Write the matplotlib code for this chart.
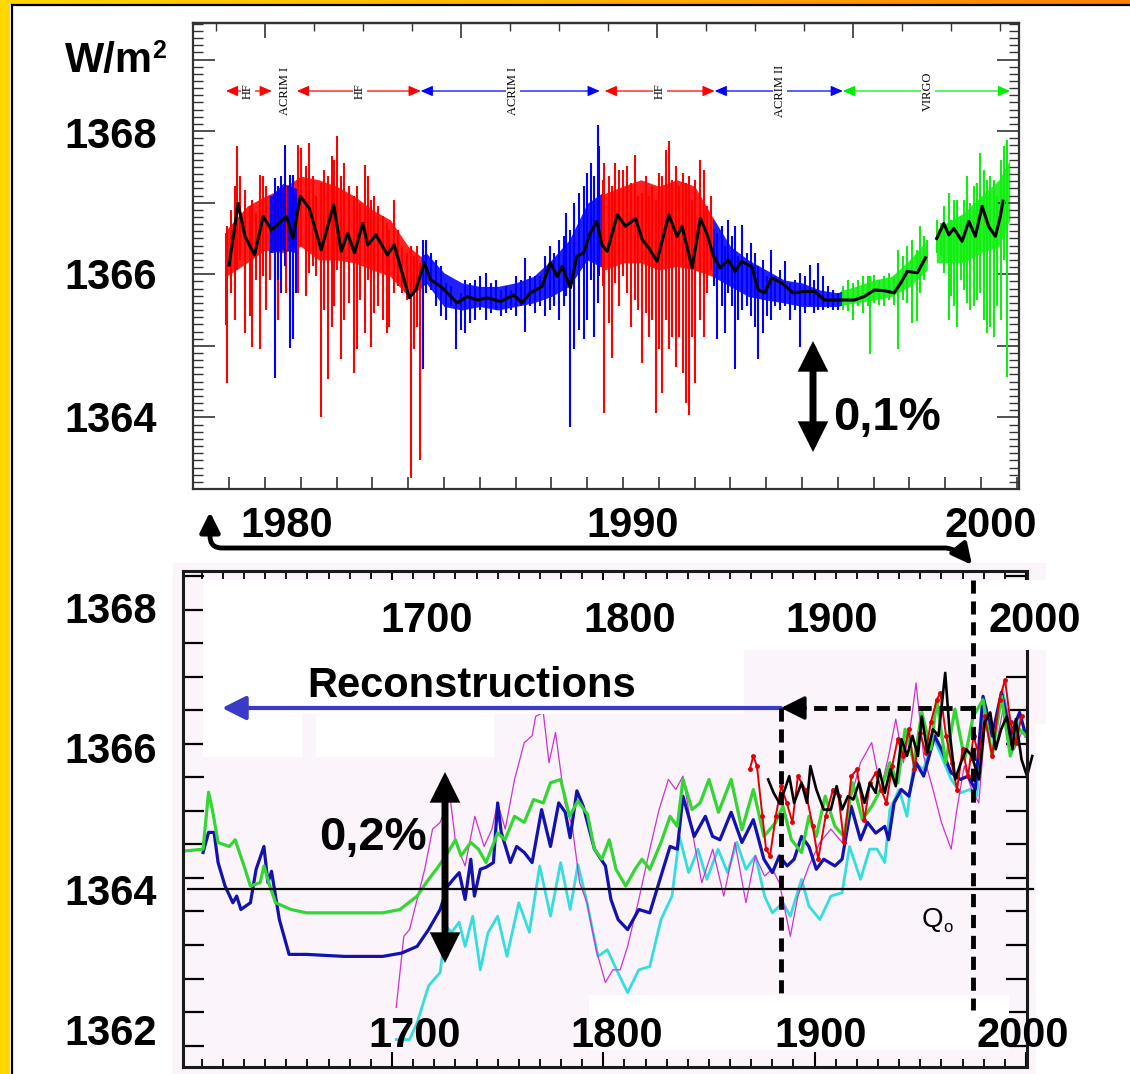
import numpy as np
import matplotlib.pyplot as plt
from matplotlib.patches import Rectangle, FancyArrowPatch, ArrowStyle
from matplotlib.path import Path
from matplotlib.ticker import MultipleLocator
from matplotlib.colors import LinearSegmentedColormap

plt.rcParams['font.family'] = ['Liberation Sans', 'DejaVu Sans']

# ------------------------------------------------------------
# upper panel : composite total solar irradiance 1978-2001 (W/m2)
# ------------------------------------------------------------
# daily spikes, (year, low, high)
hf_spikes = [
    (1978.90, 1365.29, 1366.57), (1978.95, 1364.48, 1366.67), (1979.06, 1365.74, 1366.90),
    (1979.16, 1365.36, 1367.23), (1979.21, 1366.06, 1367.79), (1979.30, 1366.20, 1367.37),
    (1979.44, 1365.18, 1367.18), (1979.58, 1365.41, 1366.95), (1979.64, 1364.99, 1367.04),
    (1979.76, 1365.92, 1366.85), (1979.85, 1364.95, 1367.39), (1979.95, 1365.97, 1367.37),
    (1980.04, 1365.50, 1367.23), (1980.13, 1365.92, 1367.09), (1980.36, 1365.36, 1367.09),
    (1980.60, 1365.74, 1367.23), (1980.92, 1365.74, 1367.81), (1981.01, 1366.39, 1367.76),
    (1981.15, 1365.69, 1367.51), (1981.24, 1366.02, 1367.83), (1981.34, 1366.11, 1367.37),
    (1981.43, 1365.97, 1367.09), (1981.57, 1364.01, 1367.27), (1981.66, 1365.50, 1367.46),
    (1981.77, 1364.53, 1367.37), (1981.87, 1365.27, 1367.65), (1981.94, 1365.55, 1367.60),
    (1982.01, 1366.06, 1367.93), (1982.13, 1364.81, 1367.37), (1982.22, 1365.36, 1367.55),
    (1982.36, 1365.60, 1367.23), (1982.48, 1364.62, 1367.09), (1982.56, 1364.95, 1367.23),
    (1982.65, 1365.64, 1366.99), (1982.78, 1365.18, 1367.53), (1982.87, 1365.92, 1367.37),
    (1982.96, 1364.99, 1367.04), (1983.05, 1365.46, 1367.09), (1983.15, 1365.55, 1366.95),
    (1983.29, 1365.36, 1366.81), (1983.41, 1365.18, 1366.71), (1983.47, 1365.27, 1366.62),
    (1983.61, 1365.74, 1367.04), (1983.72, 1365.83, 1366.62), (1983.84, 1365.74, 1366.39),
    (1983.98, 1365.64, 1366.30), (1984.07, 1363.15, 1366.39), (1984.17, 1364.95, 1366.25),
    (1984.24, 1365.27, 1366.39), (1984.33, 1363.41, 1366.16),
    (1989.43, 1365.83, 1367.32), (1989.47, 1364.06, 1367.55), (1989.61, 1365.32, 1367.37),
    (1989.69, 1364.83, 1367.23), (1989.78, 1365.88, 1367.55), (1989.89, 1365.55, 1367.46),
    (1990.00, 1365.97, 1367.46), (1990.12, 1365.74, 1367.51), (1990.21, 1365.27, 1367.27),
    (1990.33, 1365.64, 1367.67), (1990.43, 1365.50, 1367.09), (1990.52, 1364.76, 1367.13),
    (1990.63, 1365.46, 1367.37), (1990.72, 1365.13, 1367.09), (1990.80, 1365.36, 1367.23),
    (1990.91, 1364.06, 1367.04), (1991.00, 1364.95, 1367.41), (1991.09, 1364.34, 1367.37),
    (1991.19, 1365.36, 1367.74), (1991.28, 1364.95, 1367.86), (1991.37, 1365.13, 1367.32),
    (1991.48, 1364.71, 1367.51), (1991.57, 1365.13, 1367.23), (1991.67, 1364.62, 1367.41),
    (1991.76, 1364.20, 1367.27), (1991.83, 1364.04, 1367.37), (1991.93, 1365.13, 1367.04),
    (1992.02, 1364.48, 1367.32), (1992.16, 1365.36, 1367.60), (1992.25, 1365.13, 1367.46),
    (1992.34, 1365.74, 1366.95), (1992.46, 1366.06, 1367.09),
]
acrim1_spikes = [
    (1980.18, 1366.30, 1367.09), (1980.27, 1364.55, 1367.34), (1980.36, 1365.92, 1367.23),
    (1980.46, 1365.74, 1367.37), (1980.57, 1366.11, 1367.81), (1980.69, 1364.97, 1367.39),
    (1980.78, 1365.09, 1367.39), (1980.86, 1365.74, 1367.09),
    (1984.40, 1364.67, 1366.48), (1984.49, 1365.74, 1366.48), (1984.63, 1365.78, 1366.30),
    (1984.77, 1365.55, 1366.20), (1984.91, 1365.41, 1366.11), (1985.05, 1365.36, 1365.88),
    (1985.19, 1365.55, 1365.83), (1985.33, 1364.95, 1365.60), (1985.47, 1365.22, 1365.74),
    (1985.60, 1365.18, 1365.92), (1985.74, 1365.32, 1365.88), (1985.88, 1365.36, 1365.92),
    (1986.00, 1365.50, 1365.97), (1986.16, 1365.36, 1366.02), (1986.30, 1365.46, 1365.88),
    (1986.44, 1365.50, 1365.92), (1986.58, 1365.41, 1365.78), (1986.72, 1365.46, 1365.83),
    (1986.86, 1365.50, 1365.78), (1987.00, 1365.41, 1365.97), (1987.14, 1365.55, 1365.92),
    (1987.27, 1365.20, 1366.23), (1987.41, 1365.55, 1365.97), (1987.55, 1365.46, 1365.97),
    (1987.69, 1365.55, 1365.97), (1987.83, 1365.41, 1366.25), (1987.95, 1365.50, 1366.39),
    (1988.06, 1365.55, 1366.30), (1988.20, 1365.36, 1366.48), (1988.34, 1365.55, 1366.53),
    (1988.42, 1365.69, 1366.85), (1988.51, 1363.87, 1366.62), (1988.62, 1364.95, 1366.99),
    (1988.76, 1365.22, 1367.13), (1988.90, 1365.09, 1367.23), (1988.99, 1365.36, 1367.41),
    (1989.10, 1365.92, 1367.55), (1989.18, 1365.13, 1367.37), (1989.29, 1365.60, 1368.09),
    (1989.33, 1365.97, 1367.79),
]
acrim2_spikes = [
    (1992.53, 1365.83, 1366.62), (1992.62, 1365.09, 1366.57), (1992.76, 1365.55, 1366.67),
    (1992.85, 1365.18, 1366.39), (1992.94, 1365.74, 1366.76), (1993.04, 1365.55, 1366.53),
    (1993.13, 1364.67, 1366.67), (1993.22, 1365.36, 1366.25), (1993.33, 1365.50, 1366.69),
    (1993.45, 1365.55, 1366.30), (1993.57, 1365.41, 1366.44), (1993.69, 1365.27, 1366.30),
    (1993.78, 1364.81, 1366.11), (1993.92, 1365.18, 1366.20), (1994.01, 1365.41, 1365.97),
    (1994.13, 1365.36, 1366.34), (1994.24, 1365.55, 1365.97), (1994.38, 1365.50, 1366.06),
    (1994.52, 1365.55, 1366.18), (1994.66, 1365.36, 1365.88), (1994.80, 1365.50, 1365.92),
    (1994.94, 1364.99, 1366.02), (1995.07, 1365.46, 1365.97), (1995.21, 1365.55, 1366.13),
    (1995.33, 1365.46, 1365.92), (1995.44, 1365.50, 1366.16), (1995.58, 1365.50, 1365.97),
    (1995.72, 1365.53, 1365.83), (1995.86, 1365.50, 1365.78), (1996.00, 1365.50, 1365.74),
]
virgo_spikes = [
    (1996.14, 1365.50, 1365.83), (1996.28, 1365.48, 1365.92), (1996.42, 1365.36, 1365.88),
    (1996.56, 1365.55, 1365.92), (1996.69, 1365.46, 1365.97), (1996.83, 1365.55, 1365.97),
    (1996.91, 1364.88, 1365.97), (1997.02, 1365.60, 1365.99), (1997.16, 1365.57, 1365.92),
    (1997.30, 1365.55, 1365.97), (1997.44, 1365.64, 1366.02), (1997.57, 1365.57, 1365.97),
    (1997.69, 1364.95, 1366.34), (1997.81, 1365.64, 1366.25), (1997.94, 1365.60, 1366.39),
    (1998.08, 1365.32, 1366.48), (1998.20, 1365.34, 1366.34), (1998.30, 1365.74, 1366.67),
    (1998.41, 1365.92, 1366.53), (1998.48, 1366.16, 1366.48),
    (1998.76, 1366.30, 1366.76), (1998.87, 1366.25, 1366.71), (1998.96, 1366.02, 1366.95),
    (1999.10, 1365.36, 1367.13), (1999.15, 1365.69, 1366.76), (1999.24, 1365.55, 1367.04),
    (1999.33, 1365.27, 1367.04), (1999.43, 1365.92, 1366.81), (1999.52, 1365.78, 1367.04),
    (1999.61, 1365.60, 1367.37), (1999.70, 1365.50, 1366.99), (1999.80, 1365.55, 1367.23),
    (1999.89, 1365.64, 1367.27), (1999.96, 1365.74, 1367.69), (2000.07, 1365.36, 1367.46),
    (2000.17, 1365.18, 1367.32), (2000.26, 1365.27, 1367.37), (2000.35, 1365.13, 1367.32),
    (2000.44, 1365.55, 1367.09), (2000.56, 1365.36, 1367.60), (2000.63, 1366.20, 1367.79),
    (2000.72, 1364.57, 1367.88),
]
# dense band of the daily values, (year, low, high)
hf_core = [
    (1978.92, 1365.97, 1366.62), (1979.5, 1366.16, 1366.95), (1980.0, 1366.34, 1367.09),
    (1980.5, 1366.30, 1367.20), (1981.0, 1366.39, 1367.37), (1981.5, 1366.20, 1367.32),
    (1982.0, 1366.20, 1367.23), (1982.5, 1366.16, 1367.09), (1983.0, 1366.06, 1366.90),
    (1983.5, 1365.97, 1366.76), (1984.0, 1365.69, 1366.39), (1984.35, 1365.80, 1366.25),
]
hf3_core = [
    (1989.4, 1366.10, 1367.13), (1989.5, 1366.06, 1367.13), (1990.0, 1366.16, 1367.23),
    (1990.5, 1366.16, 1367.32), (1991.0, 1366.06, 1367.23), (1991.5, 1366.11, 1367.32),
    (1992.0, 1366.06, 1367.23), (1992.5, 1365.97, 1366.80),
]
acrim1a_core = [(1980.18, 1366.30, 1367.10), (1980.5, 1366.34, 1367.27), (1980.88, 1366.30, 1367.20)]
acrim1b_core = [
    (1984.35, 1365.80, 1366.25), (1984.5, 1365.88, 1366.30), (1985.0, 1365.55, 1366.02),
    (1985.5, 1365.50, 1365.88), (1986.0, 1365.55, 1365.83), (1986.5, 1365.50, 1365.83),
    (1987.0, 1365.55, 1365.88), (1987.5, 1365.60, 1365.97), (1988.0, 1365.69, 1366.20),
    (1988.5, 1365.83, 1366.48), (1989.0, 1366.20, 1366.99), (1989.4, 1366.10, 1367.13),
]
acrim2_core = [
    (1992.5, 1365.97, 1366.80), (1993.0, 1365.83, 1366.39), (1993.5, 1365.69, 1366.20),
    (1994.0, 1365.64, 1366.06), (1994.5, 1365.60, 1365.92), (1995.0, 1365.55, 1365.88),
    (1995.5, 1365.55, 1365.78), (1996.0, 1365.55, 1365.74), (1996.14, 1365.57, 1365.78),
]
virgo_core_a = [
    (1996.14, 1365.57, 1365.78), (1996.5, 1365.60, 1365.83), (1997.0, 1365.64, 1365.92),
    (1997.5, 1365.69, 1365.97), (1998.0, 1365.83, 1366.20), (1998.5, 1366.06, 1366.48),
]
virgo_core_b = [
    (1998.75, 1366.16, 1366.62), (1999.0, 1366.16, 1366.71), (1999.5, 1366.16, 1366.85),
    (2000.0, 1366.30, 1367.09), (2000.5, 1366.39, 1367.32), (2000.8, 1366.76, 1367.60),
]
# 81-day running mean
tsi_mean = [
    (1979.0, 1366.13), (1979.25, 1366.99), (1979.44, 1366.53), (1979.71, 1366.27), (1979.95, 1366.81),
    (1980.18, 1366.62), (1980.6, 1366.81), (1980.78, 1366.50), (1980.99, 1367.09), (1981.24, 1366.92),
    (1981.57, 1366.34), (1981.92, 1366.97), (1982.13, 1366.32), (1982.31, 1366.57), (1982.5, 1366.30),
    (1982.73, 1366.71), (1982.87, 1366.41), (1983.1, 1366.55), (1983.42, 1366.27), (1983.61, 1366.41),
    (1984.03, 1365.67), (1984.21, 1365.78), (1984.45, 1366.16), (1984.63, 1365.92), (1984.91, 1365.83),
    (1985.37, 1365.60), (1985.65, 1365.69), (1985.93, 1365.64), (1986.2, 1365.67), (1986.58, 1365.62),
    (1986.95, 1365.71), (1987.18, 1365.60), (1987.41, 1365.74), (1987.74, 1365.83), (1987.97, 1366.16),
    (1988.16, 1365.97), (1988.3, 1366.11), (1988.53, 1365.81), (1988.71, 1366.25), (1988.9, 1366.30),
    (1989.08, 1366.57), (1989.27, 1366.74), (1989.41, 1366.41), (1989.56, 1366.32), (1989.84, 1366.83),
    (1990.07, 1366.67), (1990.35, 1366.78), (1990.54, 1366.48), (1990.72, 1366.37), (1990.95, 1366.18),
    (1991.28, 1366.83), (1991.51, 1366.53), (1991.65, 1366.67), (1991.93, 1366.09), (1992.16, 1366.78),
    (1992.34, 1366.57), (1992.53, 1366.25), (1992.71, 1366.09), (1992.94, 1366.20), (1993.13, 1366.04),
    (1993.31, 1366.18), (1993.59, 1366.11), (1993.78, 1365.78), (1993.96, 1365.74), (1994.15, 1365.95),
    (1994.43, 1365.88), (1994.75, 1365.74), (1995.07, 1365.76), (1995.35, 1365.76), (1995.63, 1365.64),
    (1996.0, 1365.64), (1996.46, 1365.64), (1996.74, 1365.69), (1997.02, 1365.78), (1997.3, 1365.77),
    (1997.57, 1365.74), (1997.76, 1365.88), (1997.94, 1366.04), (1998.22, 1366.02), (1998.45, 1366.23),
    (1998.6, np.nan), (1998.76, 1366.50), (1998.96, 1366.71), (1999.10, 1366.55), (1999.24, 1366.64),
    (1999.47, 1366.46), (1999.66, 1366.74), (1999.84, 1366.53), (2000.03, 1366.95), (2000.21, 1366.67),
    (2000.40, 1366.53), (2000.54, 1366.81), (2000.61, 1367.02),
]
# instrument periods: name, start, end, label position, colour (None = label only)
instruments = [
    ("HF", 1978.91, 1980.19, 1979.52, "red"),
    ("ACRIM I", None, None, 1980.56, None),
    ("HF", 1980.89, 1984.35, 1982.65, "red"),
    ("ACRIM I", 1984.35, 1989.35, 1986.92, "blue"),
    ("HF", 1989.49, 1992.56, 1991.03, "red"),
    ("ACRIM II", 1992.56, 1996.14, 1994.38, "blue"),
    ("VIRGO", 1996.14, 2000.81, 1998.51, "#00ee00"),
]
label_row = 1368.56

# ------------------------------------------------------------
# lower panel : reconstructions 1600-2000 (W/m2)
# ------------------------------------------------------------
green_rec = [
    (1601, 1364.40), (1610.6, 1364.43), (1613.2, 1365.28), (1615, 1365.02), (1617.7, 1364.53),
    (1623, 1364.47), (1625.8, 1364.57), (1630.5, 1364.13), (1633, 1363.88), (1637.6, 1363.93),
    (1639.4, 1364.18), (1642.2, 1363.88), (1644.9, 1363.63), (1652.2, 1363.53), (1659.5, 1363.48),
    (1677.5, 1363.48), (1695.6, 1363.48), (1703.8, 1363.53), (1711.9, 1363.73), (1717.3, 1363.98),
    (1721, 1364.13), (1725.5, 1364.33), (1730, 1364.57), (1732.7, 1364.33), (1737.3, 1364.53),
    (1740.9, 1364.43), (1744.5, 1364.23), (1750, 1364.67), (1753.5, 1364.57), (1758, 1364.92),
    (1762.6, 1364.83), (1767, 1365.17), (1771.6, 1365.12), (1775, 1365.42), (1779.8, 1365.47),
    (1784, 1364.92), (1788, 1365.15), (1792.5, 1364.95), (1795.8, 1364.43), (1799.3, 1364.28),
    (1802.8, 1364.57), (1806, 1364.13), (1810.6, 1363.88), (1815, 1364.13), (1818.3, 1364.28),
    (1822, 1364.13), (1827.3, 1364.53), (1831.6, 1364.92), (1835, 1364.77), (1837.7, 1365.47),
    (1842, 1365.02), (1845.8, 1365.12), (1850, 1365.47), (1854.5, 1364.98), (1860.5, 1365.47),
    (1865.6, 1364.72), (1871, 1365.32), (1876, 1364.62), (1881.6, 1364.83), (1885, 1365.07),
    (1889, 1364.57), (1893.8, 1364.38), (1897.3, 1364.92), (1900.8, 1364.62), (1905, 1365.22),
    (1909.6, 1364.77), (1913.9, 1364.62), (1918, 1365.42), (1922.6, 1364.87), (1927, 1365.07),
    (1931.3, 1365.32), (1935.6, 1365.72), (1939.4, 1365.42), (1942.8, 1366.22), (1947, 1365.72),
    (1950.7, 1366.47), (1955, 1365.92), (1957.8, 1366.66), (1962, 1365.72), (1966.4, 1366.52),
    (1971, 1365.77), (1975, 1366.41), (1979.7, 1366.66), (1984, 1365.82), (1988.4, 1366.71),
    (1992.6, 1365.82), (1997, 1366.22), (2000, 1366.12),
]
blue_rec = [
    (1610.6, 1364.38), (1613.2, 1364.68), (1615.8, 1364.68), (1617.7, 1364.23), (1621, 1363.88),
    (1624.7, 1363.63), (1626.5, 1363.73), (1628.5, 1363.53), (1633, 1363.63), (1635.7, 1364.13),
    (1639.4, 1364.47), (1641.3, 1363.93), (1643, 1364.10), (1646.7, 1363.38), (1651.3, 1362.86),
    (1659.5, 1362.86), (1677.5, 1362.83), (1695.6, 1362.83), (1704.6, 1362.88), (1711.9, 1362.98),
    (1717.3, 1363.23), (1722.8, 1363.53), (1726.4, 1363.88), (1729, 1363.98), (1731.8, 1364.08),
    (1734.6, 1363.68), (1737.3, 1364.28), (1739, 1363.73), (1741.8, 1364.13), (1744.5, 1364.16),
    (1748, 1364.23), (1750, 1365.12), (1751.7, 1364.68), (1756, 1364.23), (1759, 1364.47),
    (1762.6, 1364.38), (1766.3, 1364.23), (1770.8, 1365.02), (1775, 1364.47), (1778.9, 1365.12),
    (1782, 1364.98), (1784.3, 1364.60), (1787.5, 1365.30), (1790.5, 1365.07), (1795.8, 1364.43),
    (1801, 1364.18), (1803.6, 1363.68), (1807, 1363.38), (1811.5, 1363.23), (1816.8, 1363.53),
    (1822, 1363.48), (1827.3, 1364.03), (1831.6, 1364.47), (1835, 1364.43), (1837.7, 1365.22),
    (1843, 1364.62), (1848.3, 1364.92), (1851.7, 1364.62), (1855.2, 1364.57), (1860.5, 1364.98),
    (1865.6, 1364.53), (1871, 1364.87), (1876, 1364.28), (1880, 1364.08), (1883.3, 1364.33),
    (1887, 1364.18), (1890.3, 1364.28), (1893.8, 1364.62), (1897.3, 1364.47), (1900.8, 1364.13),
    (1904.3, 1364.28), (1909.6, 1364.18), (1913, 1364.28), (1917.3, 1365.07), (1921.7, 1364.57),
    (1925, 1364.83), (1928.9, 1364.67), (1933.2, 1364.77), (1935, 1364.57), (1937.6, 1365.12),
    (1941, 1365.32), (1944.6, 1365.22), (1948, 1365.72), (1951.6, 1365.52), (1956.8, 1366.12),
    (1960, 1365.92), (1964.6, 1365.57), (1969, 1365.47), (1972.6, 1365.52), (1976, 1365.32),
    (1979.7, 1366.71), (1984, 1366.12), (1988.4, 1366.77), (1992.6, 1366.12), (1997, 1366.47),
    (2000, 1366.12),
]
cyan_rec = [
    (1702, 1361.59), (1708.3, 1361.59), (1711.9, 1361.84), (1717.3, 1362.39), (1722.8, 1362.59),
    (1725.5, 1363.28), (1728.2, 1363.19), (1731.8, 1363.34), (1734.6, 1362.98), (1738.2, 1363.43),
    (1741.8, 1362.63), (1745.4, 1363.18), (1750, 1363.43), (1754.4, 1362.83), (1760, 1363.63),
    (1765, 1363.19), (1769.9, 1364.18), (1775, 1363.43), (1779.8, 1364.23), (1784.3, 1363.53),
    (1788, 1364.20), (1792.3, 1363.63), (1797.5, 1362.83), (1801.9, 1362.93), (1806.3, 1362.63),
    (1811.5, 1362.29), (1816.8, 1362.63), (1822, 1362.68), (1827.3, 1363.38), (1832.5, 1363.73),
    (1836, 1364.62), (1840.4, 1364.08), (1844.8, 1364.43), (1849, 1363.98), (1854.3, 1364.43),
    (1858.8, 1364.08), (1863.2, 1364.53), (1867.5, 1364.13), (1872, 1364.33), (1876.3, 1363.73),
    (1880, 1363.48), (1885, 1363.63), (1888.5, 1363.43), (1893.8, 1363.98), (1897.3, 1363.58),
    (1902.5, 1363.38), (1907.7, 1363.73), (1913, 1363.78), (1916.5, 1364.47), (1921.7, 1363.98),
    (1926, 1364.43), (1929.6, 1364.43), (1933.2, 1364.23), (1935.6, 1365.02), (1940, 1365.32),
    (1943.7, 1364.92), (1947, 1365.72), (1951.6, 1365.62), (1956, 1366.12), (1960, 1365.82),
    (1964.6, 1365.47), (1969, 1365.27), (1973.4, 1365.32), (1976.7, 1365.22), (1980.4, 1366.56),
    (1984.8, 1366.02), (1989, 1366.81), (1993.6, 1366.02), (1997.9, 1366.41),
]
magenta_rec = [
    (1702, 1362.07), (1705.6, 1363.13), (1708.3, 1363.23), (1711.9, 1363.68), (1715.5, 1364.13),
    (1719.2, 1364.73), (1722.8, 1364.83), (1727.4, 1365.22), (1730.1, 1364.53), (1734.6, 1364.18),
    (1739.2, 1364.92), (1743.6, 1364.47), (1747.3, 1364.73), (1750, 1365.12), (1753.6, 1364.73),
    (1758, 1365.47), (1762.6, 1366.02), (1766.3, 1366.12), (1768, 1366.41), (1771.6, 1366.47),
    (1774.3, 1365.72), (1777.4, 1366.17), (1781.8, 1365.12), (1785.3, 1364.77), (1788.8, 1363.93),
    (1792.3, 1363.63), (1796.6, 1362.93), (1801, 1362.44), (1804.5, 1362.63), (1808, 1362.63),
    (1811.5, 1362.98), (1816.8, 1363.68), (1822, 1364.43), (1826.4, 1365.02), (1830.8, 1365.47),
    (1834.3, 1365.32), (1837.7, 1365.52), (1842.2, 1364.67), (1846.6, 1363.93), (1851.8, 1364.43),
    (1857, 1363.73), (1862.3, 1364.53), (1867.5, 1363.63), (1871.9, 1364.33), (1876.3, 1364.03),
    (1880, 1364.13), (1883.3, 1363.93), (1888.5, 1363.13), (1892.1, 1363.73), (1897.3, 1364.18),
    (1902.5, 1364.53), (1907.7, 1364.73), (1913, 1364.53), (1916.5, 1365.12), (1921.7, 1365.72),
    (1927, 1366.02), (1931.3, 1365.32), (1935, 1365.82), (1938.4, 1366.37), (1942, 1365.72),
    (1945.6, 1366.32), (1948, 1366.91), (1951.6, 1365.82), (1956, 1365.32), (1960, 1364.83),
    (1964.6, 1364.43), (1967.3, 1365.02), (1970.8, 1365.67), (1974.3, 1365.32), (1977.7, 1365.12),
    (1981.4, 1366.56), (1985.6, 1365.92), (1990, 1366.66), (1994.5, 1365.92), (1998.7, 1366.22),
]
red_rec = [
    (1869.3, 1365.62), (1871, 1365.82), (1872.7, 1365.67), (1875.3, 1364.92), (1877, 1364.43),
    (1878.9, 1364.33), (1881.6, 1364.92), (1884.2, 1365.37), (1886.8, 1365.12), (1889.5, 1364.83),
    (1892.1, 1365.52), (1895.6, 1365.32), (1899.1, 1364.77), (1901.7, 1364.28), (1905.2, 1364.92),
    (1908.7, 1365.32), (1911.3, 1365.22), (1913.9, 1364.53), (1917.4, 1365.52), (1920, 1365.62),
    (1923.6, 1364.87), (1926.2, 1365.42), (1928.9, 1365.57), (1931.4, 1365.32), (1934, 1365.12),
    (1936.7, 1365.67), (1939.3, 1366.07), (1941.9, 1365.82), (1944.6, 1366.22), (1947.2, 1365.62),
    (1949.9, 1366.17), (1952.5, 1365.87), (1955, 1366.32), (1957.8, 1366.66), (1959.5, 1366.76),
    (1962.2, 1366.12), (1964.8, 1365.72), (1967.4, 1365.32), (1970, 1365.92), (1972.6, 1365.52),
    (1975.2, 1366.12), (1977.8, 1365.82), (1980.5, 1366.41), (1984, 1365.82), (1987.5, 1366.66),
    (1990.1, 1366.96), (1992.7, 1366.32), (1995.3, 1366.02), (1997.9, 1366.41),
]
black_rec = [
    (1878, 1365.47), (1880.6, 1365.27), (1883.3, 1365.12), (1885.9, 1365.32), (1888, 1365.52),
    (1890.3, 1365.12), (1893.8, 1365.42), (1896.4, 1365.12), (1898, 1365.67), (1900.8, 1365.32),
    (1904.3, 1365.02), (1907.7, 1365.02), (1910.4, 1365.37), (1913, 1365.02), (1915.8, 1365.22),
    (1918.3, 1365.17), (1921, 1365.42), (1923.6, 1365.12), (1926.2, 1365.42), (1928.9, 1365.27),
    (1930.6, 1365.62), (1933.2, 1365.27), (1935.8, 1365.62), (1938.4, 1365.37), (1941.1, 1366.07),
    (1943.7, 1365.82), (1946.3, 1366.12), (1948.9, 1365.82), (1950.7, 1366.41), (1953.4, 1365.87),
    (1956, 1366.22), (1958.6, 1366.12), (1961.8, 1367.06), (1963.9, 1366.17), (1966.5, 1365.47),
    (1969.2, 1365.72), (1971.8, 1365.92), (1974.4, 1365.82), (1977.8, 1365.47), (1980.5, 1366.32),
    (1983.1, 1366.47), (1985.7, 1365.92), (1988.3, 1366.22), (1990.9, 1366.41), (1993.6, 1365.92),
    (1995.2, 1366.37), (1997.9, 1365.77), (2000.5, 1365.52), (2003, 1365.82),
]
q0 = 1363.84

# ------------------------------------------------------------
W, H = 1130, 1074
fig = plt.figure(figsize=(W / 100, H / 100), dpi=100)
pink = '#fbf4fb'

ax1 = fig.add_axes([193 / W, 1 - 489 / H, (1019 - 193) / W, (489 - 23) / H])
ax2 = fig.add_axes([183 / W, 1 - 1067 / H, (1027 - 183) / W, (1067 - 571) / H])
ov = fig.add_axes([0, 0, 1, 1], zorder=5)

fig.add_artist(Rectangle((173 / W, 0), (1045 - 173) / W, (H - 563) / H,
                         transform=fig.transFigure, color=pink, zorder=-1))

# ---------------- upper panel ----------------
RED, BLUE, GREEN = '#ff0000', '#0000ff', '#11ee11'
layers = [
    (hf_core, RED), (hf3_core, RED), (acrim1b_core, BLUE), (acrim2_core, BLUE),
    (virgo_core_a, GREEN), (virgo_core_b, GREEN),
]
for spikes, col in [(hf_spikes, RED), (acrim1_spikes, BLUE), (acrim2_spikes, BLUE), (virgo_spikes, GREEN)]:
    t, lo, hi = zip(*spikes)
    ax1.vlines(t, lo, hi, colors=col, lw=1.5)
for core, col in layers:
    t, lo, hi = zip(*core)
    ax1.fill_between(t, lo, hi, color=col, lw=0, alpha=0.88)
t, lo, hi = zip(*acrim1a_core)
ax1.fill_between(t, lo, hi, color=BLUE, lw=0, alpha=0.88)
t, v = zip(*tsi_mean)
ax1.plot(t, v, color='black', lw=2.2)

for name, t0, t1, tl, col in instruments:
    if col is not None:
        ax1.annotate('', xy=(t1, label_row), xytext=(t0, label_row),
                     arrowprops=dict(arrowstyle='<|-|>,head_length=0.8,head_width=0.35',
                                     color=col, lw=0.9, shrinkA=0, shrinkB=0, mutation_scale=9))
    ax1.text(tl, label_row, name, rotation=90, ha='center', va='center', fontsize=9,
             family='Liberation Serif', bbox=dict(fc='white', ec='none', pad=0.6))

ax1.set_xlim(1977.99, 2001.06)
ax1.set_ylim(1363.0, 1369.51)
ax1.xaxis.set_major_locator(MultipleLocator(1))
ax1.yaxis.set_major_locator(MultipleLocator(1))
ax1.yaxis.set_minor_locator(MultipleLocator(0.1))
ax1.tick_params(axis='x', direction='in', length=9, width=1.2, color='#333333',
                top=False, labelbottom=False)
ax1.tick_params(axis='y', which='major', direction='in', length=16, width=1.2,
                color='#333333', left=True, right=True, labelleft=False)
ax1.tick_params(axis='y', which='minor', direction='in', length=7, width=1.0,
                color='#333333', left=True, right=True)
for s in ax1.spines.values():
    s.set_linewidth(1.6)
    s.set_color('#333333')
sec = ax1.secondary_xaxis('top', functions=(lambda y: (y - 1980) * 365.25,
                                            lambda d: 1980 + d / 365.25))
sec.xaxis.set_major_locator(MultipleLocator(2000))
sec.xaxis.set_minor_locator(MultipleLocator(500))
sec.tick_params(which='major', direction='in', length=11, width=1.2, color='#333333', labeltop=False)
sec.tick_params(which='minor', direction='in', length=6, width=1.0, color='#333333')
sec.spines['top'].set_linewidth(1.6)
sec.spines['top'].set_color('#333333')

# ---------------- lower panel ----------------
ax2.set_facecolor(pink)
t, v = zip(*cyan_rec)
ax2.plot(t, v, color='#33dede', lw=2.0)
t, v = zip(*magenta_rec)
ax2.plot(t, v, color='#cc33cc', lw=0.9)
t, v = zip(*blue_rec)
ax2.plot(t, v, color='#1212b0', lw=2.3)
t, v = zip(*green_rec)
ax2.plot(t, v, color='#33d633', lw=2.3)
t, v = zip(*red_rec)
ax2.plot(t, v, color='#e00000', lw=1.4, marker='o', ms=2.5)
t, v = zip(*black_rec)
ax2.plot(t, v, color='black', lw=1.9, clip_on=False)
ax2.axhline(q0, xmin=0.006, xmax=1.007, color='black', lw=1.6, clip_on=False)

ax2.set_xlim(1601.1, 2000.5)
ax2.set_ylim(1361.18, 1368.58)
ax2.xaxis.set_major_locator(MultipleLocator(100))
ax2.xaxis.set_minor_locator(MultipleLocator(10))
ax2.yaxis.set_major_locator(MultipleLocator(0.5))
ax2.tick_params(axis='x', which='major', direction='in', length=11, width=1.5,
                top=True, bottom=True, labelbottom=False)
ax2.tick_params(axis='x', which='minor', direction='in', length=6, width=1.3,
                top=True, bottom=True)
ax2.tick_params(axis='y', direction='in', length=15, width=1.6, left=True, right=True,
                labelleft=False)
for s in ax2.spines.values():
    s.set_linewidth(2.2)
    s.set_color('#1a1a1a')

# ---------------- slide overlay (pixel coordinates) ----------------
ov.set_xlim(0, W)
ov.set_ylim(H, 0)
ov.axis('off')

# white label patches pasted over the lower panel
for x0, y0, x1, y1 in [(203, 580, 1055, 650), (203, 650, 744, 714), (203, 714, 302, 757),
                       (316, 714, 494, 757), (589, 995, 1009, 1050), (1036, 724, 1050, H)]:
    ov.add_patch(Rectangle((x0, y0), x1 - x0, y1 - y0, color='white', lw=0))


def big(x, y, s, size=30, ha='center'):
    ov.text(x, y, s, ha=ha, va='baseline', fontsize=size, fontweight='bold', color='black')


ov.text(65, 72, 'W/m', ha='left', va='baseline', fontsize=30, fontweight='bold')
ov.text(152, 58, '2', ha='left', va='baseline', fontsize=18, fontweight='bold')
for lab, yb in [('1368', 148), ('1366', 289), ('1364', 432),
                ('1368', 623), ('1366', 763), ('1364', 905), ('1362', 1045)]:
    big(111, yb, lab)
for lab, xc in [('1980', 287), ('1990', 633), ('2000', 991)]:
    big(xc, 537, lab)
for lab, xc in [('1700', 427), ('1800', 630), ('1900', 832), ('2000', 1035)]:
    big(xc, 632, lab)
for lab, xc in [('1700', 415), ('1800', 617), ('1900', 821), ('2000', 1023)]:
    big(xc, 1047, lab)
big(887, 430, '0,1%', size=34)
big(373, 850, '0,2%', size=34)
big(472, 697, 'Reconstructions', size=30)
ov.text(922, 927, 'Q', ha='left', va='baseline', fontsize=20)
ov.text(943, 932, 'o', ha='left', va='baseline', fontsize=12)

dbl = ArrowStyle('<|-|>', head_length=1.0, head_width=0.5)
for x, ya, yb in [(813, 341, 452), (445, 772, 963)]:
    ov.add_patch(FancyArrowPatch((x, yb), (x, ya), arrowstyle=dbl, mutation_scale=14,
                                 lw=5, color='black', shrinkA=0, shrinkB=0,
                                 joinstyle='miter'))

# blue "Reconstructions" arrow
ov.add_patch(FancyArrowPatch((781, 708), (222, 708),
                             arrowstyle=ArrowStyle('-|>', head_length=1.2, head_width=0.6),
                             mutation_scale=12, lw=3, color='#3a3ac6', shrinkA=0, shrinkB=0))
# dashed guides
dash = (0, (2.7, 1.6))
ov.plot([973, 800], [708, 708], color='black', lw=3.5, ls=dash)
ov.add_patch(FancyArrowPatch((805, 708), (781, 708),
                             arrowstyle=ArrowStyle('-|>', head_length=1.2, head_width=0.6),
                             mutation_scale=12, lw=2.5, color='black', shrinkA=0, shrinkB=0))
ov.plot([781, 781], [708, 995], color='black', lw=3.5, ls=dash)
ov.plot([973, 973], [580, 1010], color='black', lw=3.5, ls=dash)

# curved link arrow between the two panels
verts = [(210, 512), (210, 536), (210, 548), (222, 548), (946, 548), (960, 550), (972, 565)]
codes = [Path.MOVETO, Path.LINETO, Path.CURVE3, Path.CURVE3, Path.LINETO, Path.CURVE3, Path.CURVE3]
ov.add_patch(FancyArrowPatch(path=Path(verts, codes),
                             arrowstyle=ArrowStyle('<|-|>', head_length=1.0, head_width=0.5),
                             mutation_scale=12, lw=3.5, color='black'))

# slide frame
ov.add_patch(Rectangle((0, 0), 10, H, color='#ffd800', lw=0))
grad = LinearSegmentedColormap.from_list('bar', ['#ffd800', '#ffb000', '#ff8000'])
ov.imshow(np.linspace(0, 1, 256)[None, :], extent=(0, W, 4, 0), cmap=grad, aspect='auto')
ov.plot([12, 12], [5, H], color='black', lw=1.6)
ov.plot([12, W], [5, 5], color='black', lw=1.6)
ov.set_xlim(0, W)
ov.set_ylim(H, 0)

fig.savefig('out.png', dpi=100)
